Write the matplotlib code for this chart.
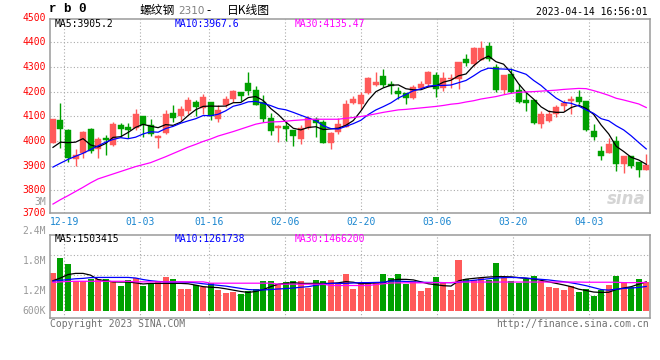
import matplotlib
matplotlib.use("Agg")
import matplotlib.pyplot as plt
import numpy as np

# 螺纹钢2310 daily candles, 2022-12-15 .. 2023-04-14
opens = [3992, 4084, 4045, 3928, 3952, 4050, 3968, 4010, 3984, 4064,
         4056, 4054, 4100, 4064, 4013, 4033, 4113, 4103, 4120, 4156,
         4135, 4156, 4088, 4144, 4170, 4200, 4234, 4205, 4158, 4095,
         4052, 4059, 4046, 4009, 4054, 4087, 4077, 3993, 4037, 4058,
         4155, 4151, 4195, 4228, 4263, 4231, 4203, 4195, 4176, 4216,
         4229, 4267, 4216, 4252, 4252, 4332, 4312, 4329, 4385, 4301,
         4205, 4272, 4205, 4166, 4165, 4068, 4079, 4109, 4142, 4161,
         4178, 4161, 4042, 3961, 3950, 4001, 3906, 3939, 3916, 3884]
highs = [4088, 4153, 4048, 3968, 4040, 4052, 4017, 4023, 4077, 4073,
         4071, 4129, 4100, 4087, 4026, 4125, 4146, 4142, 4178, 4167,
         4192, 4156, 4144, 4182, 4205, 4200, 4280, 4222, 4185, 4114,
         4063, 4076, 4046, 4065, 4100, 4096, 4085, 4038, 4093, 4166,
         4181, 4199, 4261, 4278, 4292, 4242, 4218, 4195, 4227, 4242,
         4283, 4278, 4278, 4271, 4320, 4352, 4380, 4407, 4401, 4312,
         4267, 4295, 4230, 4197, 4165, 4121, 4125, 4147, 4165, 4181,
         4205, 4161, 4069, 3981, 4011, 4022, 3939, 3939, 3916, 3948]
lows = [3992, 3972, 3916, 3899, 3932, 3952, 3932, 3941, 3979, 4014,
        4013, 4044, 4014, 4019, 3971, 4029, 4078, 4083, 4110, 4101,
        4108, 4084, 4078, 4137, 4158, 4162, 4186, 4146, 4078, 4026,
        3995, 4001, 3981, 3987, 4050, 4018, 3990, 3966, 4028, 4055,
        4150, 4131, 4192, 4223, 4220, 4189, 4170, 4151, 4170, 4212,
        4219, 4178, 4203, 4216, 4210, 4303, 4303, 4329, 4324, 4200,
        4189, 4195, 4152, 4121, 4067, 4052, 4076, 4099, 4121, 4110,
        4151, 4040, 4004, 3921, 3950, 3879, 3868, 3890, 3852, 3884]
closes = [4088, 4048, 3932, 3943, 4036, 3960, 4006, 4002, 4068, 4049,
          4046, 4110, 4064, 4030, 4019, 4108, 4095, 4128, 4165, 4136,
          4177, 4101, 4124, 4169, 4204, 4181, 4201, 4146, 4087, 4042,
          4059, 4050, 4019, 4054, 4092, 4073, 3993, 4032, 4069, 4150,
          4170, 4186, 4254, 4239, 4228, 4223, 4192, 4176, 4218, 4230,
          4279, 4212, 4254, 4256, 4320, 4316, 4377, 4377, 4331, 4205,
          4267, 4200, 4156, 4154, 4072, 4109, 4109, 4136, 4154, 4169,
          4156, 4044, 4015, 3938, 3989, 3905, 3939, 3897, 3884, 3901]

ma5 = [3974, 3995, 3993, 3995, 4009.4, 3983.8, 3975.4, 3989.4, 4014.4, 4017,
       4034.2, 4055, 4067.4, 4059.8, 4053.8, 4066.2, 4063.2, 4076, 4103, 4126.4,
       4140.2, 4141.4, 4140.6, 4141.4, 4155, 4155.8, 4175.8, 4180.2, 4163.8, 4131.4,
       4107, 4076.8, 4051.4, 4044.8, 4054.8, 4057.6, 4046.2, 4048.8, 4051.8, 4063.4,
       4082.8, 4121.4, 4165.8, 4199.8, 4215.4, 4226, 4227.2, 4211.6, 4207.4, 4207.8,
       4219, 4223, 4238.6, 4246.2, 4264.2, 4271.6, 4304.6, 4329.2, 4344.2, 4321.2,
       4311.4, 4276, 4231.8, 4196.4, 4169.8, 4138.2, 4120, 4116, 4116, 4135.4,
       4144.8, 4131.8, 4107.6, 4064.4, 4028.4, 3978.2, 3957.2, 3933.6, 3922.8, 3905.2]
ma10 = [3894, 3910, 3925, 3938, 3950, 3965, 3980, 3995, 4006, 4013.2,
        4009, 4015.2, 4028.4, 4037.1, 4035.4, 4050.2, 4059.1, 4071.7, 4081.4, 4090.1,
        4103.2, 4102.3, 4108.3, 4122.2, 4140.7, 4148, 4158.6, 4160.4, 4152.6, 4143.2,
        4131.4, 4126.3, 4115.8, 4104.3, 4093.1, 4082.3, 4061.5, 4050.1, 4048.3, 4059.1,
        4070.2, 4083.8, 4107.3, 4125.8, 4139.4, 4154.4, 4174.3, 4188.7, 4203.6, 4211.6,
        4222.5, 4225.1, 4225.1, 4226.8, 4236, 4245.3, 4263.8, 4283.9, 4295.2, 4292.7,
        4291.5, 4290.3, 4280.5, 4270.3, 4245.5, 4224.8, 4198, 4173.9, 4156.2, 4152.6,
        4141.5, 4125.9, 4111.8, 4090.2, 4081.9, 4061.5, 4044.5, 4020.6, 3993.6, 3967.6]
ma30 = [3744, 3762, 3778, 3795, 3812, 3830, 3846, 3856, 3866, 3876,
        3886, 3896, 3904, 3912, 3924, 3936, 3949, 3962, 3975, 3986,
        3998, 4008, 4020, 4029, 4038, 4048, 4058, 4068, 4074, 4077,
        4078, 4080, 4083, 4085, 4087, 4088, 4088, 4088, 4088, 4092,
        4095, 4099, 4104, 4110, 4116, 4121, 4126, 4128, 4131, 4134,
        4137, 4140, 4144, 4149, 4152, 4158, 4163, 4170, 4175, 4180,
        4187, 4193, 4197, 4199, 4200, 4202, 4204, 4206, 4209, 4211,
        4213, 4212, 4204, 4195, 4185, 4173, 4166, 4158, 4150, 4135.5]

volume = [1980000, 2760000, 2440000, 1540000, 1540000, 1650000, 1650000, 1650000, 1540000, 1280000,
          1600000, 1700000, 1280000, 1390000, 1540000, 1750000, 1650000, 1130000, 1130000, 1340000,
          1230000, 1440000, 1080000, 920000, 970000, 870000, 1020000, 1130000, 1540000, 1540000,
          1390000, 1490000, 1540000, 1540000, 1180000, 1600000, 1540000, 1600000, 1390000, 1910000,
          1130000, 1440000, 1440000, 1440000, 1910000, 1700000, 1910000, 1390000, 1540000, 1020000,
          1180000, 1750000, 1490000, 1080000, 2640000, 1650000, 1600000, 1700000, 1600000, 2480000,
          1700000, 1540000, 1440000, 1650000, 1800000, 1540000, 1230000, 1180000, 1080000, 1280000,
          970000, 1130000, 760000, 1080000, 1340000, 1800000, 1490000, 1230000, 1650000, 1490000]
vma5 = [1.56, 1.70, 1.88, 1.94, 1.94, 1.85, 1.62, 1.56, 1.50, 1.49,
        1.49, 1.45, 1.39, 1.42, 1.42, 1.42, 1.42, 1.42, 1.40, 1.33,
        1.25, 1.22, 1.20, 1.14, 1.07, 1.00, 0.95, 1.00, 1.10, 1.25,
        1.38, 1.42, 1.46, 1.42, 1.42, 1.42, 1.42, 1.42, 1.45, 1.51,
        1.48, 1.40, 1.42, 1.45, 1.45, 1.58, 1.63, 1.63, 1.60, 1.50,
        1.40, 1.35, 1.30, 1.28, 1.55, 1.64, 1.68, 1.72, 1.75, 1.77,
        1.77, 1.76, 1.72, 1.68, 1.65, 1.58, 1.50, 1.42, 1.34, 1.25,
        1.12, 1.05, 0.97, 0.95, 0.96, 1.10, 1.18, 1.25, 1.38, 1.50]
vma10 = [1.54, 1.58, 1.62, 1.66, 1.68, 1.72, 1.73, 1.73, 1.73, 1.73,
         1.73, 1.70, 1.62, 1.56, 1.52, 1.50, 1.49, 1.49, 1.48, 1.45,
         1.40, 1.36, 1.32, 1.28, 1.22, 1.16, 1.10, 1.08, 1.08, 1.10,
         1.13, 1.15, 1.18, 1.22, 1.25, 1.32, 1.38, 1.42, 1.42, 1.42,
         1.44, 1.46, 1.46, 1.47, 1.48, 1.54, 1.54, 1.52, 1.50, 1.48,
         1.47, 1.47, 1.46, 1.46, 1.47, 1.53, 1.58, 1.62, 1.66, 1.70,
         1.72, 1.73, 1.72, 1.70, 1.66, 1.63, 1.60, 1.55, 1.51, 1.45,
         1.38, 1.30, 1.20, 1.10, 1.07, 1.12, 1.16, 1.18, 1.21, 1.26]
vma30 = [1.47, 1.50, 1.52, 1.53, 1.53, 1.53, 1.53, 1.53, 1.53, 1.53,
         1.53, 1.50, 1.50, 1.50, 1.50, 1.50, 1.50, 1.50, 1.50, 1.50,
         1.50, 1.43, 1.43, 1.43, 1.43, 1.43, 1.43, 1.43, 1.43, 1.43,
         1.38, 1.38, 1.38, 1.38, 1.38, 1.38, 1.38, 1.31, 1.31, 1.31,
         1.31, 1.31, 1.31, 1.36, 1.40, 1.44, 1.45, 1.45, 1.45, 1.45,
         1.45, 1.46, 1.46, 1.46, 1.49, 1.49, 1.49, 1.49, 1.49, 1.49,
         1.49, 1.49, 1.49, 1.49, 1.49, 1.49, 1.49, 1.49, 1.49, 1.49,
         1.49, 1.48, 1.48, 1.48, 1.48, 1.48, 1.46, 1.46, 1.46, 1.466]

tick_labels = ['12-19', '01-03', '01-16', '02-06', '02-20', '03-06', '03-20', '04-03']
tick_idx = [2, 12, 21, 31, 41, 51, 61, 71]
price_ticks = [3800, 3900, 4000, 4100, 4200, 4300, 4400]

RED = '#ff5a5a'
GREEN = '#00a000'
GRID = '#aaaaaa'
FRAME = '#9a9a9a'
W, H = 660, 360

plt.rcParams['font.family'] = ['DejaVu Sans Mono']


def fx(x):
    return x / W


def fy(y):
    return 1 - y / H


fig = plt.figure(figsize=(6.6, 3.6), dpi=100)
fig.patch.set_facecolor('white')

ax = fig.add_axes([fx(50.5), fy(212.7), (650 - 50.5) / W, (212.7 - 19) / H])
axv = fig.add_axes([fx(50.5), fy(317.7), (650 - 50.5) / W, (317.7 - 234.7) / H])

idx = np.arange(len(closes))
o = np.array(opens)
c = np.array(closes)
up = c >= o
cols = [RED if u else GREEN for u in up]

# grid (sina spaces the date grid slightly wider than candles)
grid_x = 41 + (np.array(tick_idx) - 41) * 1.012
for a in (ax, axv):
    for gx in grid_x:
        a.axvline(gx, color=GRID, lw=0.8, ls=(0, (1, 2)), zorder=0)
for p in price_ticks:
    ax.axhline(p, color=GRID, lw=0.8, ls=(0, (1, 2)), zorder=0)
for v in [2.896e6, 1.856e6, 0.80e6]:
    axv.axhline(v, color=GRID, lw=0.8, ls=(0, (1, 2)), zorder=0)

# candles
ax.vlines(idx, lows, highs, colors=cols, lw=1.0, zorder=2)
body_h = np.maximum(np.abs(c - o), 4)
ax.bar(idx, body_h, bottom=np.minimum(o, c), width=0.8, color=cols,
       edgecolor=cols, lw=0.3, zorder=3)

ax.plot(idx, ma5, color='black', lw=0.9, zorder=4)
ax.plot(idx, ma10, color='#0000ff', lw=0.9, zorder=4)
ax.plot(idx, ma30, color='#ff00ff', lw=0.9, zorder=4)

ax.set_xlim(-0.33, 79.5)
ax.set_ylim(3709, 4494.5)

# volume
axv.bar(idx, volume, width=0.8, color=cols, zorder=2)
axv.plot(idx, np.array(vma5) * 1e6, color='black', lw=0.9, zorder=4)
axv.plot(idx, np.array(vma10) * 1e6, color='#0000ff', lw=0.9, zorder=4)
axv.plot(idx, np.array(vma30) * 1e6, color='#ff00ff', lw=0.9, zorder=4)
axv.set_xlim(-0.33, 79.5)
axv.set_ylim(-364000, 3952000)

for a in (ax, axv):
    a.set_xticks([])
    a.set_yticks([])
    for s in a.spines.values():
        s.set_color(FRAME)
        s.set_linewidth(1.1)

fs = 7
# price labels
for p in price_ticks:
    ax.text(-0.007, p, str(p), transform=ax.get_yaxis_transform(), ha='right',
            va='center', color='red', fontsize=fs)
ax.text(-0.007, 3709, '3700', transform=ax.get_yaxis_transform(), ha='right',
        va='center', color='red', fontsize=fs)
ax.text(-0.007, 4500, '4500', transform=ax.get_yaxis_transform(), ha='right',
        va='center', color='red', fontsize=fs, clip_on=False)

# date labels
for gx, lab in zip(grid_x, tick_labels):
    ax.text(gx, -0.046, lab, transform=ax.get_xaxis_transform(), ha='center',
            va='center', color='#1a86d0', fontsize=fs)

# volume labels
for lab, y in [('3M', 202), ('2.4M', 231), ('1.8M', 260.7), ('1.2M', 290.7), ('600K', 310.7)]:
    fig.text(fx(46), fy(y), lab, ha='right', va='center', color='#999999', fontsize=fs)

# headers
fig.text(fx(49), fy(9.5), 'r b 0', ha='left', va='center', fontsize=9,
         fontweight='bold', family=['Liberation Mono', 'DejaVu Sans Mono'])
fig.text(fx(140), fy(10.5), '螺纹钢', ha='left', va='center', fontsize=8.5,
         family=['Noto Sans CJK SC', 'DejaVu Sans'])
fig.text(fx(178), fy(11), '2310', ha='left', va='center', fontsize=7.5,
         color='#808080', family=['DejaVu Sans'])
fig.text(fx(206), fy(10.5), '-', ha='left', va='center', fontsize=8.5,
         family=['Noto Sans CJK SC', 'DejaVu Sans'])
fig.text(fx(227), fy(10.5), '日K线图', ha='left', va='center', fontsize=8.5,
         family=['Noto Sans CJK SC', 'DejaVu Sans'])
fig.text(fx(648), fy(12), '2023-04-14 16:56:01', ha='right', va='center', fontsize=fs)

fig.text(fx(55), fy(24), 'MA5:3905.2', ha='left', va='center', fontsize=fs, color='black')
fig.text(fx(175), fy(24), 'MA10:3967.6', ha='left', va='center', fontsize=fs, color='#0000ff')
fig.text(fx(295), fy(24), 'MA30:4135.47', ha='left', va='center', fontsize=fs, color='#ff00ff')

fig.text(fx(55), fy(238.5), 'MA5:1503415', ha='left', va='center', fontsize=fs, color='black')
fig.text(fx(175), fy(238.5), 'MA10:1261738', ha='left', va='center', fontsize=fs, color='#0000ff')
fig.text(fx(295), fy(238.5), 'MA30:1466200', ha='left', va='center', fontsize=fs, color='#ff00ff')

fig.text(fx(50), fy(324), 'Copyright 2023 SINA.COM', ha='left', va='center',
         fontsize=fs, color='#707070')
fig.text(fx(649), fy(324), 'http://finance.sina.com.cn', ha='right', va='center',
         fontsize=fs, color='#707070')

# watermark
fig.text(fx(626), fy(199), 'sina', ha='center', va='center', fontsize=12,
         style='italic', fontweight='bold', color='#d4d4d4', family=['DejaVu Sans'])

fig.savefig('out.png', dpi=100, facecolor='white')
